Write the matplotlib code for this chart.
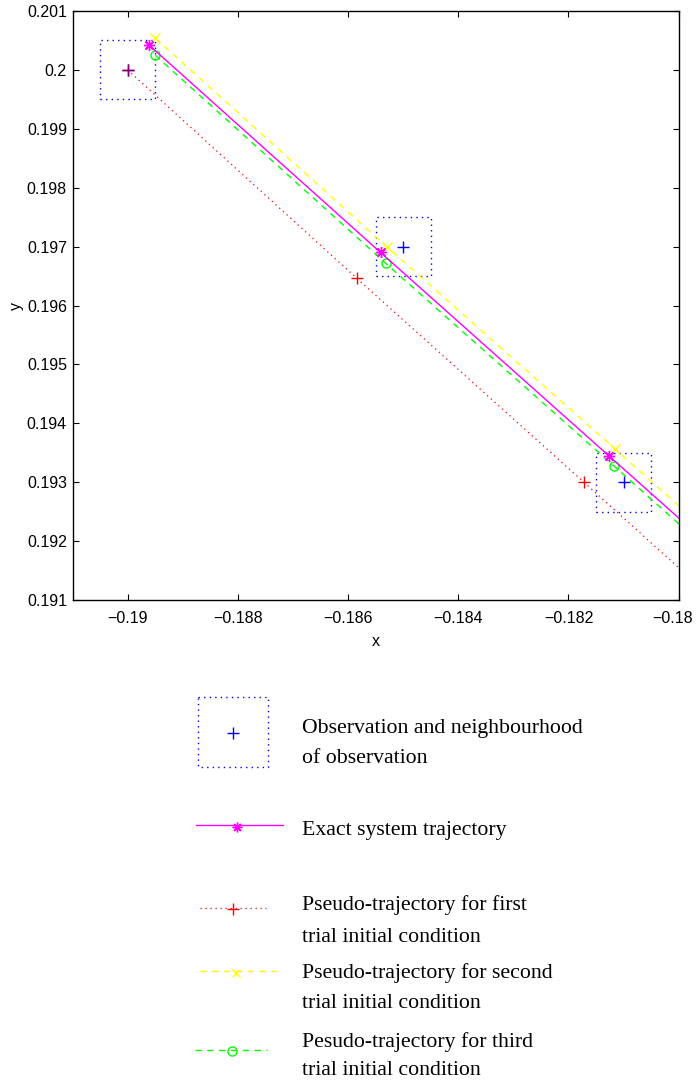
import matplotlib
matplotlib.use("Agg")
import matplotlib.pyplot as plt
from matplotlib.transforms import ScaledTranslation

# ---- data ----
obs_x = [-0.19, -0.185, -0.181]
obs_y = [0.2, 0.197, 0.193]
nbhd = 0.0005

exact_x = [-0.18961, -0.18541, -0.18127, -0.17713]
exact_y = [0.20042, 0.19690, 0.19345, 0.19000]

trial1_x = [-0.19, -0.18584, -0.18172, -0.1776]
trial1_y = [0.2, 0.19646, 0.19300, 0.18952]

trial2_x = [-0.1895, -0.1853, -0.18115, -0.1770]
trial2_y = [0.20054, 0.19700, 0.19356, 0.19009]

trial3_x = [-0.1895, -0.18532, -0.18118, -0.1770]
trial3_y = [0.20025, 0.19672, 0.19328, 0.18979]

xticks = [-0.19, -0.188, -0.186, -0.184, -0.182, -0.18]
xtick_labels = ["\u22120.19", "\u22120.188", "\u22120.186", "\u22120.184", "\u22120.182", "\u22120.18"]
yticks = [0.191, 0.192, 0.193, 0.194, 0.195, 0.196, 0.197, 0.198, 0.199, 0.2, 0.201]
ytick_labels = ["0.191", "0.192", "0.193", "0.194", "0.195", "0.196", "0.197", "0.198", "0.199", "0.2", "0.201"]

legend_texts = [
    ["Observation and neighbourhood", "of observation"],
    ["Exact system trajectory"],
    ["Pseudo-trajectory for first", "trial initial condition"],
    ["Pseudo-trajectory for second", "trial initial condition"],
    ["Pesudo-trajectory for third", "trial initial condition"],
]

BLUE = "#0000ff"
MAG = "#ff00ff"
RED = "#ff0000"
YEL = "#ffff00"
GRN = "#00ff00"
DOT = (0, (1, 3))
DASH = (0, (4.5, 4))

W, H = 696, 1088
fig = plt.figure(figsize=(W / 100, H / 100), dpi=100)
ax = fig.add_axes([72.5 / W, 1 - 600 / H, 606.2 / W, 589 / H])

# neighbourhood boxes
for ox, oy in zip(obs_x, obs_y):
    bx = [ox - nbhd, ox + nbhd, ox + nbhd, ox - nbhd, ox - nbhd]
    by = [oy - nbhd, oy - nbhd, oy + nbhd, oy + nbhd, oy - nbhd]
    ax.plot(bx, by, color=BLUE, lw=1.0, ls=DOT)

ax.plot(trial1_x, trial1_y, color=RED, lw=0.9, ls=DOT, marker="+", ms=8, mew=1.0)
ax.plot(obs_x, obs_y, ls="none", color=BLUE, marker="+", ms=8, mew=1.0, alpha=1)
ax.plot(obs_x[:1], obs_y[:1], ls="none", color=RED, marker="+", ms=8, mew=1.0, alpha=0.5)
ax.plot(trial2_x, trial2_y, color=YEL, lw=1.0, ls=DASH, marker="x", ms=7, mew=1.0)
ax.plot(trial3_x, trial3_y, color=GRN, lw=1.0, ls=DASH, marker="o", ms=6.5, mfc="none", mew=1.0)
ax.plot(exact_x, exact_y, color=MAG, lw=1.0, ls="-", marker=(8, 2, 0), ms=8, mew=1.0)

ax.set_xlim(-0.191, -0.18)
ax.set_ylim(0.191, 0.201)
ax.set_xticks(xticks)
ax.set_xticklabels(xtick_labels)
ax.set_yticks(yticks)
ax.set_yticklabels(ytick_labels)
ax.tick_params(direction="in", length=4, width=0.8, top=True, right=True,
               labelsize=11.5, colors="black")
ax.tick_params(axis="x", pad=8)
ax.tick_params(axis="y", pad=4)
for lab in ax.get_xticklabels() + ax.get_yticklabels():
    lab.set_family("Liberation Sans")
last = ax.get_xticklabels()[-1]
last.set_transform(last.get_transform() + ScaledTranslation(-6 / 100, 0, fig.dpi_scale_trans))
for s in ax.spines.values():
    s.set_linewidth(1.0)
ax.set_xlabel("x", fontsize=11.5, family="Liberation Sans", labelpad=6)
ax.set_ylabel("y", fontsize=11.5, family="Liberation Sans", labelpad=2)

# ---- legend panel (pixel coordinates) ----
lg = fig.add_axes([0, 0, 1, 1])
lg.set_xlim(0, W)
lg.set_ylim(H, 0)
lg.axis("off")

# box symbol
lg.plot([198, 268, 268, 198, 198], [697, 697, 767, 767, 697], color=BLUE, lw=1.0, ls=DOT)
lg.plot([233], [733], ls="none", color=BLUE, marker="+", ms=8, mew=1.0)
# exact
lg.plot([196, 283], [825, 825], color=MAG, lw=1.0)
lg.plot([237], [827], ls="none", color=MAG, marker=(8, 2, 0), ms=7, mew=1.0)
# trial 1
lg.plot([200, 266], [908, 908], color=RED, lw=0.9, ls=DOT)
lg.plot([233], [909], ls="none", color=RED, marker="+", ms=8, mew=1.0)
# trial 2
lg.plot([200, 276], [971, 971], color=YEL, lw=1.0, ls=DASH)
lg.plot([236], [973], ls="none", color=YEL, marker="x", ms=6, mew=1.0)
# trial 3
lg.plot([195, 267], [1050, 1050], color=GRN, lw=1.0, ls=DASH)
lg.plot([232], [1051], ls="none", color=GRN, marker="o", ms=6.5, mfc="none", mew=1.0)

baselines = [[733, 763], [835], [910, 941.5], [978, 1008], [1046.5, 1075]]
for lines, ys in zip(legend_texts, baselines):
    for t, y in zip(lines, ys):
        lg.text(302, y, t, fontsize=15.7, family="Liberation Serif", va="baseline", ha="left")

fig.savefig("out.png", dpi=100)
